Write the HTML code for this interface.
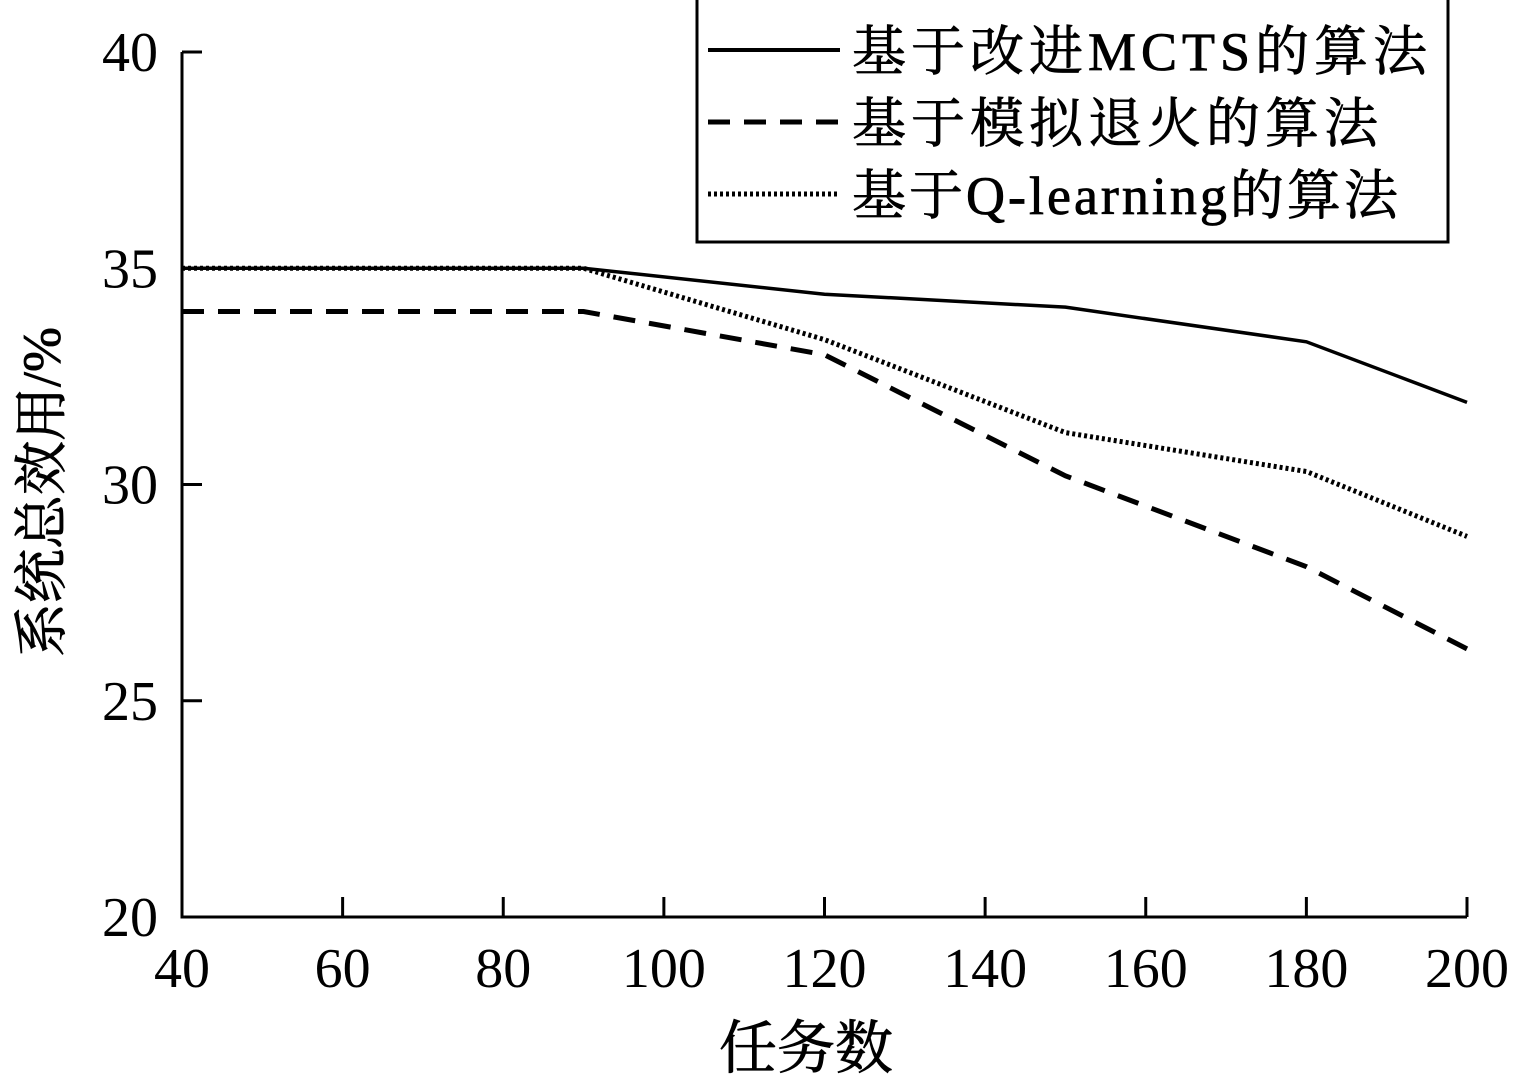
<!DOCTYPE html>
<html><head><meta charset="utf-8"><style>
html,body{margin:0;padding:0;background:#fff;}
svg{display:block;}
text{font-family:"Liberation Serif","Noto Serif CJK SC",serif;fill:#000;}
</style></head><body>
<svg id="chart" width="1513" height="1083" viewBox="0 0 1513 1083" xmlns="http://www.w3.org/2000/svg">
<g id="axes"></g>
<g id="series"></g>
<g id="legend">
<rect x="697" y="-2" width="751" height="244" fill="#fff" stroke="#000" stroke-width="3"/>
<line x1="708" y1="50" x2="840" y2="50" stroke="#000" stroke-width="4"/>
<text x="852" y="70" font-size="54" letter-spacing="5" stroke="#000" stroke-width="0.8">基于改进MCTS的算法</text>
<line x1="708" y1="122" x2="840" y2="122" stroke="#000" stroke-width="5" stroke-dasharray="22,14"/>
<text x="852" y="142" font-size="54" letter-spacing="5" stroke="#000" stroke-width="0.8">基于模拟退火的算法</text>
<line x1="708" y1="194" x2="840" y2="194" stroke="#000" stroke-width="5" stroke-dasharray="3,3"/>
<text x="852" y="214" font-size="54" letter-spacing="3" stroke="#000" stroke-width="0.8">基于Q-learning的算法</text>
</g>
<text x="806" y="1068" font-size="58" text-anchor="middle" stroke="#000" stroke-width="0.8">任务数</text>
<text transform="translate(60,492) rotate(-90)" font-size="54" text-anchor="middle" stroke="#000" stroke-width="0.8">系统总效用/%</text>
</svg>
<script>
const xValues=[40,90,120,150,180,200];
const mcts=[35,35,34.4,34.1,33.3,31.9];
const sa=[34,34,33,30.2,28.1,26.2];
const ql=[35,35,33.35,31.2,30.3,28.8];
const xTicks=[40,60,80,100,120,140,160,180,200];
const yTicks=[20,25,30,35,40];
const X0=182,X1=1467,Y0=917,Y1=52;
const sx=v=>X0+(v-40)/(200-40)*(X1-X0);
const sy=v=>Y0-(v-20)/(40-20)*(Y0-Y1);
const NS="http://www.w3.org/2000/svg";
const axes=document.getElementById('axes');
function mk(tag,attrs,parent){const e=document.createElementNS(NS,tag);for(const k in attrs)e.setAttribute(k,attrs[k]);parent.appendChild(e);return e;}
let a=mk('path',{d:`M${X0},${Y1}V${Y0}H${X1}`,fill:'none',stroke:'#000','stroke-width':3},axes);


xTicks.forEach(t=>{
 const l=mk('line',{x1:sx(t),x2:sx(t),y1:Y0,y2:Y0-20,stroke:'#000','stroke-width':3},axes);
 
 
 const tx=mk('text',{x:sx(t),y:987,'font-size':56,'text-anchor':'middle'},axes);
 tx.textContent=t;
 
 
});
yTicks.forEach(t=>{
 const l=mk('line',{x1:X0,x2:X0+20,y1:sy(t),y2:sy(t),stroke:'#000','stroke-width':3},axes);
 
 
 const tx=mk('text',{x:158,y:sy(t)+19,'font-size':56,'text-anchor':'end'},axes);
 tx.textContent=t;
 
 
});
const ser=document.getElementById('series');
function line(vals,dash,name,w){
 const d=vals.map((v,i)=>(i?'L':'M')+sx(xValues[i])+','+sy(v)).join('');
 const p=mk('path',{d:d,fill:'none',stroke:'#000','stroke-width':w},ser);
 if(dash)p.setAttribute('stroke-dasharray',dash);
 
 
}
line(sa,'22,14','series-sa',5);
line(ql,'3,3','series-qlearning',5);
line(mcts,null,'series-mcts',3.5);
</script>
</body></html>
